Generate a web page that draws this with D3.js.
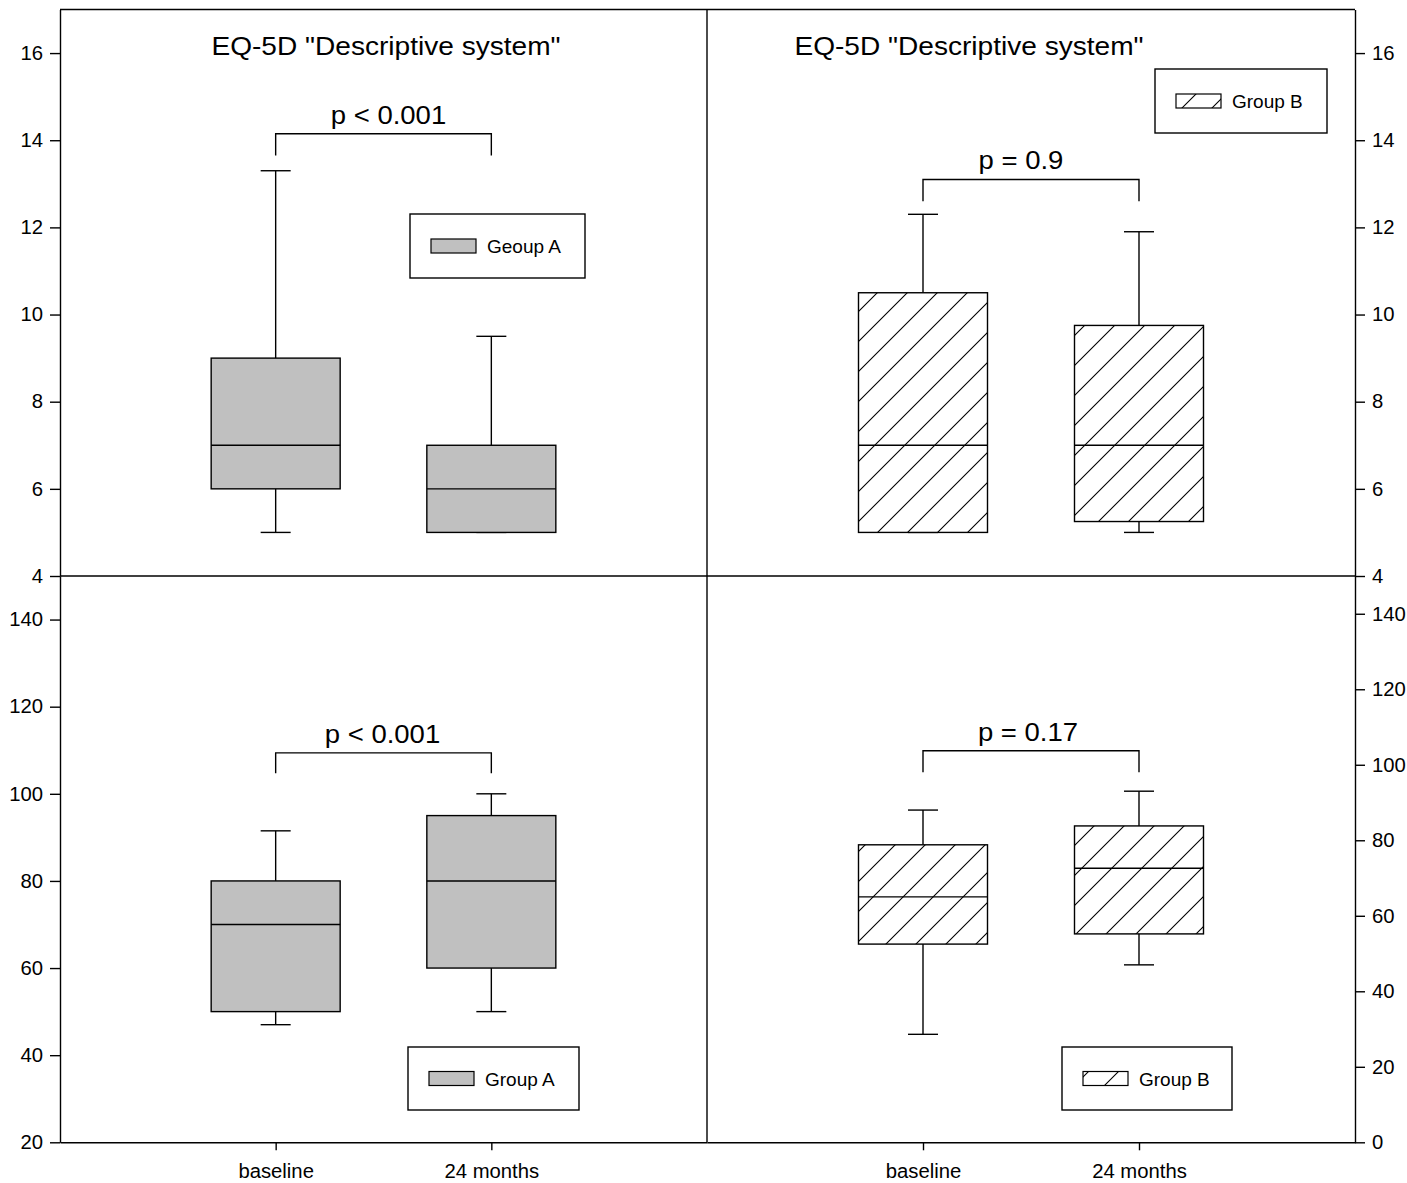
<!DOCTYPE html>
<html>
<head>
<meta charset="utf-8">
<script src="https://cdn.jsdelivr.net/npm/d3@7"></script>
<style>
  html, body { margin: 0; padding: 0; background: #fff; }
  svg { display: block; }
  text { font-family: "Liberation Sans", Arial, sans-serif; fill: #000; }
</style>
</head>
<body>
<svg id="chart" width="1407" height="1183"></svg>
<script>
// Time points on the x axis
const timepoints = ["baseline", "24 months"];

// Five-number summaries per time point: [low whisker, Q1, median, Q3, high whisker]
const descA = [[5, 6, 7, 9, 13.3], [5, 5, 6, 7, 9.5]];          // EQ-5D descriptive, Group A
const descB = [[5, 5, 7, 10.5, 12.3], [5, 5.25, 7, 9.75, 11.9]]; // EQ-5D descriptive, Group B
const vasA  = [[47, 50, 70, 80, 91.5], [50, 60, 80, 95, 100]];    // lower left, Group A
const vasB  = [[28.6, 52.5, 65, 78.8, 88], [47, 55.2, 72.6, 83.8, 93]]; // lower right, Group B

// Axis ranges and tick values
const descDomain = [4, 17];
const vasADomain = [20, 150];
const vasBDomain = [0, 150];
const descTicks = [4, 6, 8, 10, 12, 14, 16];
const vasATicks = [20, 40, 60, 80, 100, 120, 140];
const vasBTicks = [0, 20, 40, 60, 80, 100, 120, 140];

// Significance labels and bracket levels [bracket top, leg bottom] in data units
const pLabels = ["p < 0.001", "p = 0.9", "p < 0.001", "p = 0.17"];
const brackets = [[14.15, 13.65], [13.1, 12.6], [109.4, 104.7], [103.7, 98]];

// Titles and legend entries
const titleText = "EQ-5D \"Descriptive system\"";
const legendLabels = ["Geoup A", "Group B", "Group A", "Group B"];

// ---- layout ----
const X0 = 60, XM = 707, X1 = 1355;
const Y0 = 9.5, YM = 576, Y1 = 1142.3;
const LW = 1.4;

const svg = d3.select("#chart");

const defs = svg.append("defs");
defs.append("pattern")
  .attr("id", "hatch")
  .attr("patternUnits", "userSpaceOnUse")
  .attr("width", 30).attr("height", 30)
  .append("path")
  .attr("d", "M-7.5,7.5 L7.5,-7.5 M0,30 L30,0 M22.5,37.5 L37.5,22.5")
  .attr("stroke", "#000").attr("stroke-width", 1.1).attr("fill", "none");

function stretchedText(g, x, y, str, size, anchor, sx) {
  return g.append("text")
    .attr("transform", `translate(${x},${y}) scale(${sx},1)`)
    .attr("text-anchor", anchor || "middle")
    .style("font-size", size + "px")
    .text(str);
}

const xLeft = d3.scalePoint().domain(timepoints).range([X0, XM]).padding(1);
const xRight = d3.scalePoint().domain(timepoints).range([XM, X1]).padding(1);
const yTop = d3.scaleLinear().domain(descDomain).range([YM, Y0]);
const yBL = d3.scaleLinear().domain(vasADomain).range([Y1, YM]);
const yBR = d3.scaleLinear().domain(vasBDomain).range([Y1, YM]);

const boxW = 129, capW = 30;

const panels = [
  { x: xLeft,  y: yTop, data: descA, fill: "#c0c0c0", p: 0, pdx: 5, legend: [410, 214, 585, 278], title: 386 },
  { x: xRight, y: yTop, data: descB, fill: "url(#hatch)", p: 1, pdx: -10, legend: [1155, 69, 1327, 133], title: 969 },
  { x: xLeft,  y: yBL,  data: vasA,  fill: "#c0c0c0", p: 2, pdx: -1, legend: [408, 1047, 579, 1110] },
  { x: xRight, y: yBR,  data: vasB,  fill: "url(#hatch)", p: 3, pdx: -3, legend: [1062, 1047, 1232, 1110] }
];

panels.forEach(pn => {
  const g = svg.append("g");
  // boxes
  pn.data.forEach((d, i) => {
    const cx = pn.x(timepoints[i]);
    const [lo, q1, med, q3, hi] = d;
    const line = (x1, y1, x2, y2) => g.append("line")
      .attr("x1", x1).attr("y1", y1).attr("x2", x2).attr("y2", y2)
      .attr("stroke", "#000").attr("stroke-width", LW);
    // whiskers
    line(cx, pn.y(q3), cx, pn.y(hi));
    line(cx - capW / 2, pn.y(hi), cx + capW / 2, pn.y(hi));
    line(cx, pn.y(q1), cx, pn.y(lo));
    line(cx - capW / 2, pn.y(lo), cx + capW / 2, pn.y(lo));
    // box
    if (pn.fill.startsWith("url")) {
      g.append("rect")
        .attr("x", cx - boxW / 2).attr("y", pn.y(q3))
        .attr("width", boxW).attr("height", pn.y(q1) - pn.y(q3))
        .attr("fill", "#fff");
    }
    g.append("rect")
      .attr("x", cx - boxW / 2).attr("y", pn.y(q3))
      .attr("width", boxW).attr("height", pn.y(q1) - pn.y(q3))
      .attr("fill", pn.fill).attr("stroke", "#000").attr("stroke-width", LW);
    line(cx - boxW / 2, pn.y(med), cx + boxW / 2, pn.y(med));
  });

  // significance bracket
  const [bt, bl] = brackets[pn.p];
  const xa = pn.x(timepoints[0]), xb = pn.x(timepoints[1]);
  g.append("path")
    .attr("d", `M${xa},${pn.y(bl)} V${pn.y(bt)} H${xb} V${pn.y(bl)}`)
    .attr("fill", "none").attr("stroke", "#000").attr("stroke-width", LW);
  stretchedText(g, (xa + xb) / 2 + pn.pdx, pn.y(bt) - 10, pLabels[pn.p], 25, "middle", 1.1);

  // title
  if (pn.title) stretchedText(g, pn.title, 55, titleText, 26.5, "middle", 1.06);

  // legend
  const [lx0, ly0, lx1, ly1] = pn.legend;
  g.append("rect").attr("x", lx0).attr("y", ly0)
    .attr("width", lx1 - lx0).attr("height", ly1 - ly0)
    .attr("fill", "#fff").attr("stroke", "#000").attr("stroke-width", LW);
  const sy = (ly0 + ly1) / 2;
  g.append("rect").attr("x", lx0 + 21).attr("y", sy - 7)
    .attr("width", 45).attr("height", 14)
    .attr("fill", pn.fill).attr("stroke", "#000").attr("stroke-width", 1.2);
  stretchedText(g, lx0 + 77, sy + 7, legendLabels[pn.p], 19, "start", 1.0);
});

// ---- frame lines ----
const frame = svg.append("g").attr("stroke", "#000").attr("stroke-width", LW);
frame.append("line").attr("x1", X0).attr("x2", X1).attr("y1", Y0).attr("y2", Y0);
frame.append("line").attr("x1", X0).attr("x2", X1).attr("y1", YM).attr("y2", YM);
frame.append("line").attr("x1", XM).attr("x2", XM).attr("y1", Y0).attr("y2", Y1);

// ---- axes ----
const TSX = 1.04;
function styleAxis(sel) {
  sel.select(".domain").attr("stroke", "#000").attr("stroke-width", LW);
  sel.selectAll(".tick line").attr("stroke", "#000").attr("stroke-width", LW);
  sel.selectAll(".tick text").each(function () {
    const t = d3.select(this);
    const x = +t.attr("x") || 0;
    t.attr("x", x / TSX).attr("transform", `scale(${TSX},1)`)
      .style("font-size", "19.5px")
      .attr("fill", "#000");
  });
  sel.attr("font-family", null).attr("font-size", null);
}

svg.append("g").attr("transform", `translate(${X0},0)`)
  .call(d3.axisLeft(yTop).tickValues(descTicks).tickSize(10).tickPadding(7).tickSizeOuter(0))
  .call(styleAxis);
svg.append("g").attr("transform", `translate(${X1},0)`)
  .call(d3.axisRight(yTop).tickValues(descTicks).tickSize(10).tickPadding(7).tickSizeOuter(0))
  .call(styleAxis);
svg.append("g").attr("transform", `translate(${X0},0)`)
  .call(d3.axisLeft(yBL).tickValues(vasATicks).tickSize(10).tickPadding(7).tickSizeOuter(0))
  .call(styleAxis);
svg.append("g").attr("transform", `translate(${X1},0)`)
  .call(d3.axisRight(yBR).tickValues(vasBTicks).tickSize(10).tickPadding(7).tickSizeOuter(0))
  .call(styleAxis);

svg.append("g").attr("transform", `translate(0,${Y1})`)
  .call(d3.axisBottom(xLeft).tickSize(8).tickPadding(14).tickSizeOuter(0))
  .call(styleAxis);
svg.append("g").attr("transform", `translate(0,${Y1})`)
  .call(d3.axisBottom(xRight).tickSize(8).tickPadding(14).tickSizeOuter(0))
  .call(styleAxis);
</script>
</body>
</html>
